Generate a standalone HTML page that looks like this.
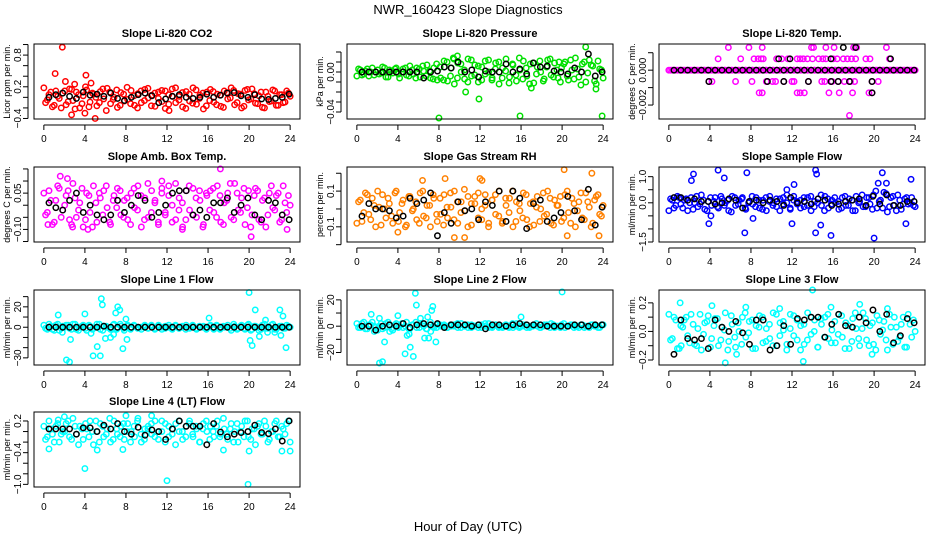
<!DOCTYPE html>
<html><head><meta charset="utf-8"><style>
html,body{margin:0;padding:0;background:#fff}
svg text{font-family:"Liberation Sans",sans-serif}
</style></head><body>
<svg id="chart" width="936" height="540" xmlns="http://www.w3.org/2000/svg">
<text x="468" y="14" text-anchor="middle" font-size="13">NWR_160423  Slope Diagnostics</text>
<text x="468" y="531" text-anchor="middle" font-size="13">Hour of Day (UTC)</text>
</svg>
<script>
const xTicks=[0,4,8,12,16,20,24];
// ---- CO2 ----
const co2Vals=[0.18,-0.05,0.1,-0.15,0.02,-0.2,0.12,-0.08,0.15,-0.22,0.05,-0.12,0.2,-0.18,0.08,0.0,-0.1,0.16,-0.25,0.1,-0.04,0.14,-0.15,0.06,0.19,-0.12,0.03,-0.2,0.12,-0.06,0.17,-0.16,0.08,-0.02,0.13,-0.21,0.05,0.16,-0.1,0.02,-0.18,0.11,-0.07,0.18,-0.13,0.04,-0.22,0.1,0.15,-0.09,0.06,-0.17,0.12,-0.03,0.18,-0.14,0.07,-0.2,0.13,-0.05,0.16,-0.11,0.03,-0.19,0.1,-0.08,0.14,-0.15,0.05,-0.1,0.12,0.02];
const co2Vals2=[-0.1,0.05,-0.18,0.12,-0.02,0.08,-0.14,0.16,-0.06,0.1,-0.2,0.03,0.14,-0.09,0.06,-0.16,0.11,-0.03,0.17,-0.12,0.0,-0.19,0.09,-0.07,-0.04,0.13,-0.15,0.07,-0.1,0.15,-0.01,0.04,-0.17,0.1,-0.08,0.12,-0.13,0.02,0.18,-0.05,0.09,-0.21,0.06,-0.11,0.14,-0.02,0.08,-0.16,-0.06,0.11,-0.14,0.04,-0.19,0.09,-0.01,0.13,-0.1,0.06,-0.17,0.15,-0.03,0.07,-0.12,0.1,-0.2,0.02,-0.07,0.12,-0.15,0.05,-0.09,0.08];
const co2OutT=[1.8,1.1,2.1,4.1,2.7,5.0,4.0,12.2,3.0,4.6];
const co2OutV=[0.95,0.45,0.3,0.42,-0.33,-0.4,-0.3,-0.25,0.25,0.27];
const co2Black=[0.0,0.05,0.08,0.02,-0.02,0.1,0.04,0.06,0.02,0.08,-0.02,-0.06,0.0,0.05,0.08,0.03,-0.1,-0.03,0.02,0.05,0.0,-0.02,0.0,0.06,0.0,0.04,0.08,0.09,0.03,0.0,0.05,-0.03,-0.04,-0.02,0.0,0.06];
const co2Ticks=[-0.4,-0.2,0,0.2,0.4,0.6,0.8,1.0];
const co2Labels=["−0.4","","","0.2","","","0.8",""];
// ---- Pressure ----
const presVals=[-0.004,0.002,-0.002,0.003,0.0,-0.003,0.002,-0.001,0.004,-0.005,0.001,0.003,-0.002,0.0,0.004,-0.004,0.002,-0.006,0.003,0.006,-0.004,0.001,-0.007,0.008,0.005,-0.008,0.01,-0.004,0.013,-0.006,0.008,0.002,-0.01,0.012,-0.003,0.006,-0.008,0.011,0.0,-0.006,0.009,-0.012,0.004,0.013,-0.005,0.007,-0.009,0.002,0.011,-0.004,0.008,-0.011,0.005,0.0,-0.007,0.012,-0.003,0.009,-0.006,0.004,0.01,-0.008,0.002,0.014,-0.005,0.008,-0.01,0.012,0.006,-0.012,0.003,-0.006];
const presVals2=[0.003,-0.003,0.001,-0.004,0.004,0.0,-0.002,0.005,-0.005,0.002,-0.001,0.004,-0.006,0.003,-0.003,0.006,-0.002,0.004,-0.005,0.001,0.007,-0.006,0.004,-0.008,-0.006,0.011,-0.009,0.004,-0.012,0.009,0.0,-0.007,0.013,-0.004,0.007,-0.01,0.005,-0.002,0.012,-0.008,0.003,0.01,-0.006,0.001,-0.011,0.008,-0.003,0.014,-0.007,0.004,-0.012,0.009,-0.002,0.011,-0.009,0.005,0.013,-0.005,0.002,-0.01,0.008,-0.004,0.012,-0.007,0.003,-0.013,0.01,-0.001,0.007,-0.009,0.011,0.002];
const presOutT=[8.0,15.9,23.9,11.9,10.6,22.3,9.8,17,23.3,9.4,19.7];
const presOutV=[-0.046,-0.044,-0.044,-0.027,-0.02,0.025,0.016,-0.016,-0.017,0.014,0.01];
const presBlack=[0,0,0,0,0,0,0,0,0,-0.006,0,0.001,0.005,0.004,0.01,0.0,0.002,-0.005,0.001,0.0,0.0,0.008,0.0,0.003,-0.002,0.009,0.005,0.006,0.001,0.0,-0.002,0.004,0.0,0.018,-0.004,0.0];
const presTicks=[-0.04,-0.03,-0.02,-0.01,0,0.01,0.02];
const presLabels=["−0.04","","","","0.00","",""];
// ---- Li-820 Temp ----
const tempVals=new Array(72).fill(0);
const tempVals2=new Array(72).fill(0);
const tempOutT=[5.8,7.8,9.1,13.9,14.1,15.3,16.1,18.0,18.3,21.2,4.8,7.0,8.3,8.7,9.0,9.2,10.5,11.0,11.6,12.5,12.8,13.1,13.5,14.0,14.6,15.0,15.3,16.0,16.4,17.0,17.4,17.8,18.2,19.2,19.6,21.5,3.9,4.2,6.5,8.1,9.5,10.1,10.4,11.2,12.0,12.2,13.6,14.9,15.2,15.9,16.5,17.1,17.7,18.1,19.8,20.4,8.8,9.1,12.5,12.8,13.2,15.6,16.6,17.9,19.5,19.8,17.6];
const tempOutV=[0.0013,0.0013,0.0013,0.0013,0.0013,0.0013,0.0013,0.0013,0.0013,0.0013,0.00065,0.00065,0.00065,0.00065,0.00065,0.00065,0.00065,0.00065,0.00065,0.00065,0.00065,0.00065,0.00065,0.00065,0.00065,0.00065,0.00065,0.00065,0.00065,0.00065,0.00065,0.00065,0.00065,0.00065,0.00065,0.00065,-0.00065,-0.00065,-0.00065,-0.00065,-0.00065,-0.00065,-0.00065,-0.00065,-0.00065,-0.00065,-0.00065,-0.00065,-0.00065,-0.00065,-0.00065,-0.00065,-0.00065,-0.00065,-0.00065,-0.00065,-0.0013,-0.0013,-0.0013,-0.0013,-0.0013,-0.0013,-0.0013,-0.0013,-0.0013,-0.0013,-0.0026];
const tempBlack=new Array(36).fill(0);
const tempBlackT=[17,18.2,10.7,11.8,15.8,21.6,3.9,9.6,11.2,13.6,15.8,16.5,17.6,19.8,19.8];
const tempBlackV=[0.0013,0.0013,0.00065,0.00065,0.00065,0.00065,-0.00065,-0.00065,-0.00065,-0.00065,-0.00065,-0.00065,-0.00065,-0.00065,-0.0013];
const tempTicks=[-0.002,-0.001,0,0.001];
const tempLabels=["−0.002","","0.000",""];
// ---- Amb box temp ----
const ambVals=[0.05,-0.03,0.02,-0.07,0.08,-0.05,0.0,0.06,-0.08,0.03,-0.02,0.07,-0.06,0.04,-0.09,0.01,0.05,-0.04,0.08,-0.07,0.02,-0.01,0.06,-0.05,0.03,-0.08,0.07,-0.02,0.04,-0.06,0.09,-0.03,0.01,-0.07,0.05,-0.04,0.08,0.0,-0.06,0.03,-0.09,0.06,-0.02,0.07,-0.05,0.02,-0.08,0.04,0.06,-0.03,0.08,-0.07,0.01,0.05,-0.05,0.09,-0.02,0.03,-0.08,0.06,-0.04,0.07,-0.06,0.02,-0.09,0.05,-0.01,0.04,-0.07,0.08,-0.03,0.0];
const ambVals2=[-0.04,0.06,-0.08,0.02,0.07,-0.02,0.04,-0.06,0.09,-0.05,0.01,-0.09,0.05,-0.03,0.08,-0.07,0.03,0.06,-0.01,-0.08,0.04,0.07,-0.04,0.02,-0.06,0.05,-0.01,0.08,-0.09,0.03,-0.05,0.06,0.02,-0.08,0.07,-0.03,0.04,-0.07,0.09,-0.02,0.01,-0.06,0.08,-0.04,0.03,0.06,-0.09,0.05,-0.02,0.07,-0.05,0.04,-0.08,0.02,0.09,-0.06,0.05,-0.03,0.07,-0.01,-0.09,0.04,0.06,-0.07,0.03,-0.04,0.08,-0.02,0.05,-0.06,0.01,0.04];
const ambOutT=[1.6,2.3,17.2,20.2,4.3,0.4,13.5,2.8,11.5,23.7];
const ambOutV=[0.12,0.11,0.15,-0.13,-0.1,-0.08,-0.1,-0.09,0.1,-0.1];
const ambBlack=[0.01,-0.01,-0.02,0.02,0.05,-0.03,0.0,-0.04,-0.06,-0.04,0.02,-0.03,0.0,0.04,0.02,-0.05,-0.03,0.0,0.05,0.06,0.06,-0.04,-0.02,-0.05,0.01,0.01,0.03,-0.03,0.0,0.03,-0.04,-0.06,0.02,0.01,-0.04,-0.06];
const ambTicks=[-0.15,-0.1,-0.05,0,0.05,0.1,0.15];
const ambLabels=["","−0.10","","","0.05","",""];
// ---- RH ----
const rhVals=[-0.08,0.05,-0.02,0.08,-0.06,0.02,0.1,-0.09,0.0,0.06,-0.04,0.09,-0.07,0.03,-0.1,0.07,-0.01,0.04,-0.08,0.1,-0.05,0.02,0.08,-0.03,0.06,-0.09,0.01,0.09,-0.06,0.04,-0.02,0.11,-0.1,0.03,0.07,-0.05,0.0,0.08,-0.08,0.05,-0.03,0.1,-0.07,0.02,0.06,-0.1,0.04,-0.01,0.09,-0.06,0.03,-0.09,0.07,0.0,-0.04,0.1,-0.08,0.05,0.02,-0.07,0.08,-0.02,0.06,-0.1,0.04,-0.05,0.09,0.01,-0.08,0.07,-0.03,0.02];
const rhVals2=[0.04,-0.07,0.09,-0.03,0.06,-0.1,0.01,0.08,-0.05,0.03,-0.08,0.1,-0.02,0.05,-0.09,0.07,0.0,-0.06,0.09,-0.04,0.02,-0.1,0.06,-0.07,-0.03,0.08,-0.05,0.01,0.1,-0.08,0.04,-0.01,0.07,-0.09,0.03,0.09,-0.06,0.02,-0.1,0.05,0.08,-0.04,-0.08,0.06,-0.02,0.1,-0.07,0.03,-0.05,0.08,-0.1,0.04,0.01,-0.07,0.09,-0.03,0.06,-0.09,0.02,0.07,-0.05,0.1,-0.08,0.03,-0.01,0.09,-0.06,0.04,-0.1,0.05,0.08,-0.04];
const rhOutT=[20.2,22.9,12.0,8.6,6.4,9.5,10.5,20.5,23.6,4.0,12.2];
const rhOutV=[0.22,0.2,0.17,0.17,0.16,-0.16,-0.16,-0.15,-0.15,-0.13,0.16];
const rhBlack=[-0.04,0.03,0.0,0.0,-0.01,-0.05,-0.04,0.06,0.03,0.05,0.09,-0.15,-0.02,-0.08,0.04,-0.01,0.0,-0.06,0.04,0.02,0.1,-0.07,0.1,0.06,-0.11,0.03,0.05,-0.07,-0.05,-0.02,0.07,-0.01,-0.06,0.11,-0.09,0.01];
const rhTicks=[-0.2,-0.1,0,0.1,0.2];
const rhLabels=["","−0.1","","0.1",""];
// ---- Sample flow ----
const sfVals=[-0.3,0.1,-0.1,0.2,-0.2,0.15,0.0,-0.25,0.25,-0.05,0.1,-0.3,0.2,0.05,-0.15,0.25,-0.1,0.1,-0.35,0.2,-0.05,0.15,-0.2,0.0,0.25,-0.15,0.1,-0.25,0.2,0.05,-0.1,0.15,-0.3,0.2,0.0,-0.2,0.25,-0.05,0.1,-0.15,0.2,-0.3,0.05,0.15,-0.1,0.25,-0.2,0.1,0.0,-0.25,0.2,-0.1,0.15,-0.3,0.25,0.05,-0.15,0.2,-0.05,0.3,-0.2,0.1,0.4,-0.35,0.2,-0.1,0.3,-0.25,0.15,-0.05,0.2,-0.15];
const sfVals2=[0.15,-0.2,0.25,-0.05,0.1,-0.3,0.2,0.0,-0.15,0.3,-0.25,0.05,-0.1,0.2,-0.2,0.15,0.0,-0.3,0.25,-0.1,0.1,0.2,-0.25,0.05,-0.05,0.2,-0.2,0.1,-0.3,0.25,0.0,-0.15,0.15,-0.05,0.3,-0.25,0.1,0.05,-0.2,0.2,-0.1,0.25,-0.15,0.0,0.3,-0.3,0.15,-0.05,0.2,0.05,-0.2,0.25,-0.1,0.1,-0.3,0.0,0.3,-0.15,0.2,-0.25,0.45,0.05,-0.2,0.35,-0.15,0.25,-0.3,0.1,-0.05,0.2,0.0,-0.1];
const sfOutT=[4.8,2.4,7.6,14.3,14.4,20.8,23.6,2.2,5.4,7.4,3.9,4.1,12,14.3,14.8,15.8,20.0,23.1,12.2,20.4,21.2,8.2,11.5];
const sfOutV=[1.25,1.1,1.15,1.25,1.1,1.15,0.9,0.85,0.95,-1.15,-0.8,-0.5,-0.8,-1.15,-0.85,-1.25,-1.35,-0.8,0.7,0.75,0.75,-0.6,0.5];
const sfBlack=[0.2,0.2,0.1,0.15,0.05,0.05,-0.05,0.0,0.15,0.1,-0.2,0.05,0.1,0.0,0.1,0.05,-0.1,0.2,0.0,0.05,-0.05,0.15,0.1,-0.1,-0.05,0.05,0.1,0.15,-0.1,0.25,-0.05,0.3,-0.1,-0.1,0.05,0.05];
const sfTicks=[-1.5,-1.0,-0.5,0,0.5,1.0];
const sfLabels=["−1.5","","","0.0","","1.0"];
// ---- Line 1 ----
const l1Vals=[2,-2,1,-3,3,-1,0,2,-2,3,-3,1,-1,2,-2,0,3,-3,1,-1,2,-2,3,-1,1,-2,2,-1,0,1,-1,2,-2,1,0,-1,2,-2,1,-1,0,2,-1,1,-2,0,1,-1,2,-2,1,-1,0,2,-3,1,-1,2,-2,3,-2,1,-3,2,-1,0,3,-2,1,-1,2,0];
const l1Vals2=[-1,3,-2,2,-3,1,2,-1,3,-2,0,2,-3,1,-1,3,-2,1,0,-2,3,-1,1,-3,2,-1,1,0,-2,2,-1,1,-1,2,-2,1,0,-1,2,-1,1,-2,0,2,-1,1,0,-2,1,-1,2,-2,1,0,-1,3,-2,1,-1,2,-3,1,0,-2,3,-1,2,-2,0,1,-1,1];
const l1OutT=[1.4,2.2,2.5,2.6,4.0,4.8,5.5,5.2,5.6,5.7,6.0,6.5,7.2,7.4,7.0,7.7,8.0,8.1,6.8,4.6,16.1,20.0,20.1,20.3,20.6,21.0,21.6,23.0,23.3,23.1,23.6,22.5,21.8,1.8];
const l1OutV=[12,-32,-34,-12,13,-28,-28,-19,28,22,-11,-10,20,17,14,-21,8,-12,-7,-6,9,34,-13,-18,17,-9,7,17,11,-8,-20,-5,-5,-5];
const l1Black=[0,0,0,0,0,0,0,0,1,0,0,0,0,0,0,0,0,0,0,0,0,0,0,0,0,0,0,0,0,0,0,0,0,0,0,0];
const l1Ticks=[-30,-20,-10,0,10,20,30];
const l1Labels=["−30","","","0","","20",""];
// ---- Line 2 ----
const l2Vals=[2,-1,3,-2,1,0,-3,2,-1,3,-2,1,-1,2,0,-2,1,3,-1,2,-2,1,0,-1,1,0,-1,1,0,2,-1,0,1,-1,0,1,-1,0,2,-1,1,0,-1,1,0,-1,2,0,1,-1,0,1,0,-1,1,0,2,-1,0,1,-1,0,1,0,-1,1,0,-1,1,0,-1,1];
const l2Vals2=[-1,2,-2,1,3,-1,0,-2,2,1,-3,2,0,-1,3,-2,1,-1,2,0,-2,3,-1,1,0,1,-1,0,1,-1,2,0,-1,1,0,-1,1,2,-1,0,1,-1,0,1,-1,2,0,-1,0,1,-1,0,2,-1,0,1,-1,1,0,-1,2,0,1,-1,0,1,-1,0,1,0,-1,1];
const l2OutT=[1.4,1.7,2.2,2.2,2.5,2.7,4.0,4.7,5.1,5.2,5.5,5.7,5.8,6.2,6.6,6.9,7.0,7.3,7.4,7.7,7.2,16.0,20.0,4.9,3.2];
const l2OutV=[9,-4,6,-28,-27,-12,8,-21,-6,-16,-23,25,16,6,-9,7,-9,12,15,-12,-4,7,26,-7,-4];
const l2Black=[0,0,-3,0,1,0,2,-1,1,2,1,2,-1,1,1,1,0,1,-2,1,1,0,1,2,1,1,1,0,0,0,0,1,1,0,1,1];
const l2Ticks=[-20,-10,0,10,20];
const l2Labels=["−20","","0","","20"];
// ---- Line 3 ----
const l3Vals=[0.12,-0.05,0.08,-0.12,0.03,0.1,-0.08,0.05,-0.1,0.12,-0.02,0.07,-0.11,0.04,0.09,-0.06,0.01,-0.13,0.11,-0.04,0.06,-0.09,0.13,-0.01,0.08,-0.12,0.03,0.1,-0.07,0.05,-0.1,0.12,-0.03,0.07,-0.13,0.02,0.11,-0.06,0.04,-0.09,0.13,-0.02,0.08,-0.11,0.05,0.1,-0.05,0.01,-0.08,0.12,-0.04,0.06,-0.12,0.09,0.02,-0.1,0.13,-0.06,0.04,-0.09,0.11,-0.02,0.07,-0.13,0.03,0.1,-0.07,0.05,-0.11,0.12,-0.04,0.0];
const l3Vals2=[-0.06,0.1,-0.12,0.04,0.08,-0.03,0.12,-0.09,0.02,-0.13,0.06,0.11,-0.05,0.09,-0.1,0.03,0.13,-0.07,0.05,-0.11,0.0,0.1,-0.04,0.07,-0.12,0.04,0.11,-0.08,0.02,-0.05,0.13,-0.1,0.06,0.01,-0.09,0.12,-0.03,0.08,-0.13,0.05,-0.06,0.1,0.0,-0.11,0.09,-0.04,0.12,-0.08,0.07,-0.02,0.11,-0.12,0.04,-0.07,0.13,-0.05,0.02,0.09,-0.1,0.06,-0.13,0.08,0.01,-0.06,0.12,-0.09,0.03,-0.04,0.1,-0.11,0.05,0.08];
const l3OutT=[1.1,4.2,7.5,6.6,5.5,15.8,13.1,18.6,14,19.8,1.2,10.8,21.3];
const l3OutV=[0.2,0.18,0.17,-0.16,-0.22,0.17,-0.21,0.19,0.29,-0.16,-0.1,0.16,0.16];
const l3Black=[-0.16,0.08,-0.05,-0.06,-0.05,-0.12,0.08,0.03,0.0,0.07,-0.01,-0.09,0.08,0.08,-0.13,-0.1,0.04,-0.09,0.09,0.08,0.1,0.1,-0.04,0.05,0.12,0.04,0.03,0.1,0.06,0.15,0.0,0.12,-0.08,-0.03,0.09,0.06];
const l3Ticks=[-0.2,-0.1,0,0.1,0.2];
const l3Labels=["−0.2","","0.0","","0.2"];
// ---- Line 4 ----
const l4Vals=[0.1,-0.1,0.05,-0.2,0.15,-0.05,0.0,0.2,-0.15,0.1,-0.25,0.05,0.15,-0.1,0.0,0.2,-0.2,0.1,-0.05,0.25,-0.15,0.05,-0.1,0.15,0.0,-0.2,0.1,0.2,-0.05,-0.15,0.05,0.15,-0.1,0.0,0.2,-0.2,0.1,-0.05,0.15,0.0,-0.15,0.1,0.2,-0.1,0.05,-0.2,0.15,0.0,0.1,-0.1,0.2,-0.05,0.05,-0.15,0.15,0.0,-0.2,0.1,0.2,-0.1,0.05,-0.25,0.15,-0.05,0.1,-0.15,0.0,0.2,-0.1,0.05,0.15,-0.2];
const l4Vals2=[-0.15,0.2,-0.05,0.1,-0.2,0.0,0.15,-0.1,0.25,-0.05,0.1,-0.15,0.05,0.2,-0.25,0.0,0.15,-0.1,0.05,-0.2,0.2,-0.05,0.1,-0.15,0.15,0.0,-0.1,0.25,-0.2,0.05,0.1,-0.05,0.2,-0.15,0.0,0.15,-0.1,0.05,-0.25,0.2,0.0,-0.1,0.15,-0.05,0.1,-0.2,0.05,0.2,-0.15,0.0,0.1,-0.1,0.25,-0.05,0.05,-0.2,0.15,0.0,-0.1,0.2,-0.15,0.05,0.1,-0.05,0.2,-0.2,0.0,0.15,-0.1,0.1,-0.05,0.2];
const l4OutT=[0.5,4.0,12.0,19.9,5.2,7.7,17.5,20.0,23.2,24,8.0,10.5,2,1.4];
const l4OutV=[-0.33,-0.7,-0.93,-1.0,-0.35,-0.34,-0.35,-0.37,-0.37,-0.37,0.3,0.3,0.28,0.22];
const l4Black=[0.05,0.05,0.05,0.05,-0.05,0.07,0.07,0.0,0.12,0.05,0.15,0.0,-0.05,0.08,-0.07,0.03,0.0,-0.15,0.05,0.2,0.1,0.1,0.1,-0.25,0.15,-0.01,-0.1,-0.05,-0.02,0.0,0.12,-0.02,-0.04,0.05,-0.18,0.2];
const l4Ticks=[-1.0,-0.8,-0.6,-0.4,-0.2,0,0.2];
const l4Labels=["−1.0","","","−0.4","","","0.2"];

const panels=[
 {name:"co2",title:"Slope Li-820 CO2",ylab:"Licor ppm per min.",col:0,row:0,ylim:[-0.41,1.01],color:"#ff0000",vals:co2Vals,vals2:co2Vals2,outT:co2OutT,outV:co2OutV,black:co2Black,ticks:co2Ticks,labels:co2Labels},
 {name:"pressure",title:"Slope Li-820 Pressure",ylab:"kPa per min.",col:1,row:0,ylim:[-0.047,0.028],color:"#00e000",vals:presVals,vals2:presVals2,outT:presOutT,outV:presOutV,black:presBlack,ticks:presTicks,labels:presLabels},
 {name:"li820-temp",title:"Slope Li-820 Temp.",ylab:"degrees C per min.",col:2,row:0,ylim:[-0.0028,0.0015],color:"#ff00ff",vals:tempVals,vals2:tempVals2,outT:tempOutT,outV:tempOutV,black:tempBlack,bT:tempBlackT,bV:tempBlackV,ticks:tempTicks,labels:tempLabels},
 {name:"amb-box-temp",title:"Slope Amb. Box Temp.",ylab:"degrees C per min.",col:0,row:1,ylim:[-0.152,0.158],color:"#ff00ff",vals:ambVals,vals2:ambVals2,outT:ambOutT,outV:ambOutV,black:ambBlack,ticks:ambTicks,labels:ambLabels},
 {name:"gas-stream-rh",title:"Slope Gas Stream RH",ylab:"percent per min.",col:1,row:1,ylim:[-0.185,0.235],color:"#ff8000",vals:rhVals,vals2:rhVals2,outT:rhOutT,outV:rhOutV,black:rhBlack,ticks:rhTicks,labels:rhLabels},
 {name:"sample-flow",title:"Slope Sample Flow",ylab:"ml/min per min.",col:2,row:1,ylim:[-1.5,1.37],color:"#0000ff",vals:sfVals,vals2:sfVals2,outT:sfOutT,outV:sfOutV,black:sfBlack,ticks:sfTicks,labels:sfLabels},
 {name:"line1-flow",title:"Slope Line 1 Flow",ylab:"ml/min per min.",col:0,row:2,ylim:[-37,36.5],color:"#00ffff",vals:l1Vals,vals2:l1Vals2,outT:l1OutT,outV:l1OutV,black:l1Black,ticks:l1Ticks,labels:l1Labels},
 {name:"line2-flow",title:"Slope Line 2 Flow",ylab:"ml/min per min.",col:1,row:2,ylim:[-29.5,27.5],color:"#00ffff",vals:l2Vals,vals2:l2Vals2,outT:l2OutT,outV:l2OutV,black:l2Black,ticks:l2Ticks,labels:l2Labels},
 {name:"line3-flow",title:"Slope Line 3 Flow",ylab:"ml/min per min.",col:2,row:2,ylim:[-0.235,0.29],color:"#00ffff",vals:l3Vals,vals2:l3Vals2,outT:l3OutT,outV:l3OutV,black:l3Black,ticks:l3Ticks,labels:l3Labels},
 {name:"line4-flow",title:"Slope Line 4 (LT) Flow",ylab:"ml/min per min.",col:0,row:3,ylim:[-1.05,0.37],color:"#00ffff",vals:l4Vals,vals2:l4Vals2,outT:l4OutT,outV:l4OutV,black:l4Black,ticks:l4Ticks,labels:l4Labels}
];
const colLeft=[34,347,659], rowTop=[44,167,290,412], W=266, H=75;
const NS="http://www.w3.org/2000/svg";
const svg=document.getElementById('chart');
function mk(tag,attrs,parent){const e=document.createElementNS(NS,tag);for(const k in attrs)e.setAttribute(k,attrs[k]);parent.appendChild(e);return e;}
panels.forEach(p=>{
  const L=colLeft[p.col],T=rowTop[p.row];
  const g=mk('g',{},svg);
  
  
  const xs=h=>L+W*(h+0.96)/25.92;
  const ys=v=>T+H*(p.ylim[1]-v)/(p.ylim[1]-p.ylim[0]);
  const t=mk('text',{x:L+W/2,y:T-7,'text-anchor':'middle','font-size':11,'font-weight':'bold'},g);
  t.textContent=p.title;
  
  
  const yl=mk('text',{x:0,y:0,'text-anchor':'middle','font-size':9,transform:`translate(${L-24},${T+H/2}) rotate(-90)`},g);
  yl.textContent=p.ylab;
  
  
  const pts=mk('g',{fill:'none','stroke-width':1.5},g);
  
  
  const R=2.7;
  const n=p.vals.length;
  p.vals.forEach((v,i)=>{
    const c=mk('circle',{cx:xs(i*24/(n-1)),cy:ys(v),r:R,stroke:p.color},pts);
    
    
  });
  const n2=p.vals2.length;
  p.vals2.forEach((v,i)=>{
    const c=mk('circle',{cx:xs((i+0.5)*24/n2),cy:ys(v),r:R,stroke:p.color},pts);
    
    
  });
  p.outT.forEach((h,i)=>{
    const c=mk('circle',{cx:xs(h),cy:ys(p.outV[i]),r:R,stroke:p.color},pts);
    
    
  });
  const nb=p.black.length;
  p.black.forEach((v,i)=>{
    const c=mk('circle',{cx:xs(0.5+i*23.4/(nb-1)),cy:ys(v),r:R,stroke:'#000'},pts);
    
    
  });
  if(p.bT)p.bT.forEach((h,i)=>{
    const c=mk('circle',{cx:xs(h),cy:ys(p.bV[i]),r:R,stroke:'#000'},pts);
    
    
  });
  const box=mk('rect',{x:L,y:T,width:W,height:H,fill:'none',stroke:'#000','stroke-width':1},g);
  
  
  mk('line',{x1:xs(0),x2:xs(24),y1:T+H+6,y2:T+H+6,stroke:'#000'},g);
  xTicks.forEach(h=>{
    mk('line',{x1:xs(h),x2:xs(h),y1:T+H+6,y2:T+H+11,stroke:'#000'},g);
    const tx=mk('text',{x:xs(h),y:T+H+23,'text-anchor':'middle','font-size':10},g);
    tx.textContent=h;
    
    
  });
  mk('line',{x1:L-6,x2:L-6,y1:ys(p.ticks[0]),y2:ys(p.ticks[p.ticks.length-1]),stroke:'#000'},g);
  p.ticks.forEach((v,i)=>{
    mk('line',{x1:L-11,x2:L-6,y1:ys(v),y2:ys(v),stroke:'#000'},g);
    if(p.labels[i]){
      const ty=mk('text',{x:0,y:0,'text-anchor':'middle','font-size':10,transform:`translate(${L-13},${ys(v)}) rotate(-90)`},g);
      ty.textContent=p.labels[i];
      
      
    }
  });
});
</script>
</body></html>
